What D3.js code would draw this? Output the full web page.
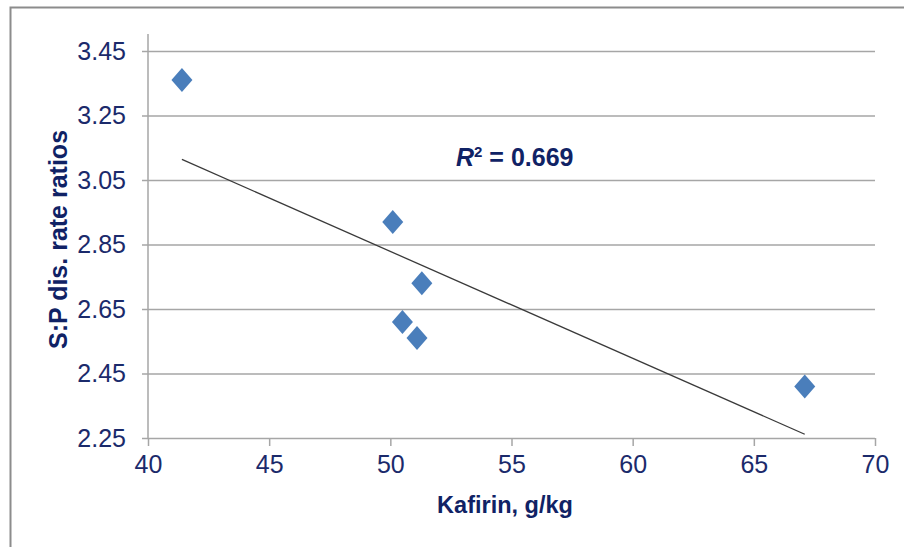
<!DOCTYPE html>
<html>
<head>
<meta charset="utf-8">
<script src="https://cdn.jsdelivr.net/npm/d3@7"></script>
<style>
  html, body { margin: 0; padding: 0; background: #fff; }
  svg { display: block; }
  text { font-family: "Liberation Sans", Arial, sans-serif; }
</style>
</head>
<body>
<svg id="chart" width="904" height="547"></svg>
<script>
// Data
const kafirin = [41.4, 50.1, 51.3, 50.5, 51.1, 67.1];
const spRatio = [3.36, 2.92, 2.73, 2.61, 2.56, 2.41];
const xTicks = [40, 45, 50, 55, 60, 65, 70];
const yTicks = [2.25, 2.45, 2.65, 2.85, 3.05, 3.25, 3.45];
const r2Label = "0.669";
const xTitle = "Kafirin, g/kg";
const yTitle = "S:P dis. rate ratios";

const W = 904, H = 547;
const margin = { left: 148, right: 29, top: 51, bottom: 109 };
const svg = d3.select("#chart");

// outer chart border
svg.append("rect")
  .attr("x", 10.5).attr("y", 7.5)
  .attr("width", 1000).attr("height", 1000)
  .attr("fill", "none").attr("stroke", "#8c8c8c").attr("stroke-width", 2);

const x = d3.scaleLinear().domain([40, 70]).range([margin.left, W - margin.right]);
const y = d3.scaleLinear().domain([2.25, 3.45]).range([H - margin.bottom, margin.top]);

const tickColor = "#1b2a6b";
const titleColor = "#102265";

// gridlines + y axis
const yAxis = d3.axisLeft(y).tickValues(yTicks).tickFormat(d3.format(".2f"))
  .tickSize(-(W - margin.right - margin.left)).tickPadding(16);
const gy = svg.append("g").attr("transform", `translate(${margin.left},0)`).call(yAxis);
gy.select(".domain").remove();
gy.selectAll(".tick line").attr("stroke", "#a6a6a6").attr("stroke-width", 1.5)
  .attr("x1", -6);
gy.selectAll(".tick text").attr("fill", tickColor).attr("font-size", 25)
  .attr("font-family", "Liberation Sans, Arial, sans-serif").attr("x", -22);

// y axis vertical line
svg.append("line")
  .attr("x1", margin.left).attr("x2", margin.left)
  .attr("y1", margin.top - 17).attr("y2", y(2.25))
  .attr("stroke", "#a6a6a6").attr("stroke-width", 1.5);

// x axis
const xAxis = d3.axisBottom(x).tickValues(xTicks).tickFormat(d3.format("d"))
  .tickSize(8).tickPadding(9);
const gx = svg.append("g").attr("transform", `translate(0,${y(2.25)})`).call(xAxis);
gx.select(".domain").remove();
gx.selectAll(".tick line").attr("stroke", "#a6a6a6").attr("stroke-width", 1.5);
gx.selectAll(".tick text").attr("fill", tickColor).attr("font-size", 25)
  .attr("font-family", "Liberation Sans, Arial, sans-serif");

// linear trendline (least squares from data)
const n = kafirin.length;
const mx = d3.mean(kafirin), my = d3.mean(spRatio);
let sxy = 0, sxx = 0;
for (let i = 0; i < n; i++) { sxy += (kafirin[i] - mx) * (spRatio[i] - my); sxx += (kafirin[i] - mx) ** 2; }
const slope = sxy / sxx, intercept = my - slope * mx;
const xmin = d3.min(kafirin), xmax = d3.max(kafirin);
svg.append("line")
  .attr("x1", x(xmin)).attr("y1", y(intercept + slope * xmin))
  .attr("x2", x(xmax)).attr("y2", y(intercept + slope * xmax))
  .attr("stroke", "#3a3a3a").attr("stroke-width", 1.3);

// points (diamonds)
const pts = kafirin.map((k, i) => ({ k, v: spRatio[i] }));
svg.append("g").selectAll("path").data(pts).join("path")
  .attr("d", "M0,-12L10.5,0L0,12L-10.5,0Z")
  .attr("transform", d => `translate(${x(d.k)},${y(d.v)})`)
  .attr("fill", "#4a7ebb");

// R² annotation
const r2 = svg.append("text").attr("x", 456).attr("y", 166)
  .attr("fill", titleColor).attr("font-size", 25).attr("font-weight", "bold");
r2.append("tspan").attr("font-style", "italic").text("R");
r2.append("tspan").attr("font-size", 15).attr("dy", -9).text("2");
r2.append("tspan").attr("dy", 9).text(" = " + r2Label);

// axis titles
svg.append("text").attr("x", 505).attr("y", 513)
  .attr("text-anchor", "middle").attr("fill", titleColor)
  .attr("font-size", 23.5).attr("font-weight", "bold").text(xTitle);

svg.append("text")
  .attr("transform", `translate(67,${(y(2.25) + y(3.45)) / 2 - 5}) rotate(-90)`)
  .attr("text-anchor", "middle").attr("fill", titleColor)
  .attr("font-size", 25).attr("font-weight", "bold").text(yTitle);
</script>
</body>
</html>
